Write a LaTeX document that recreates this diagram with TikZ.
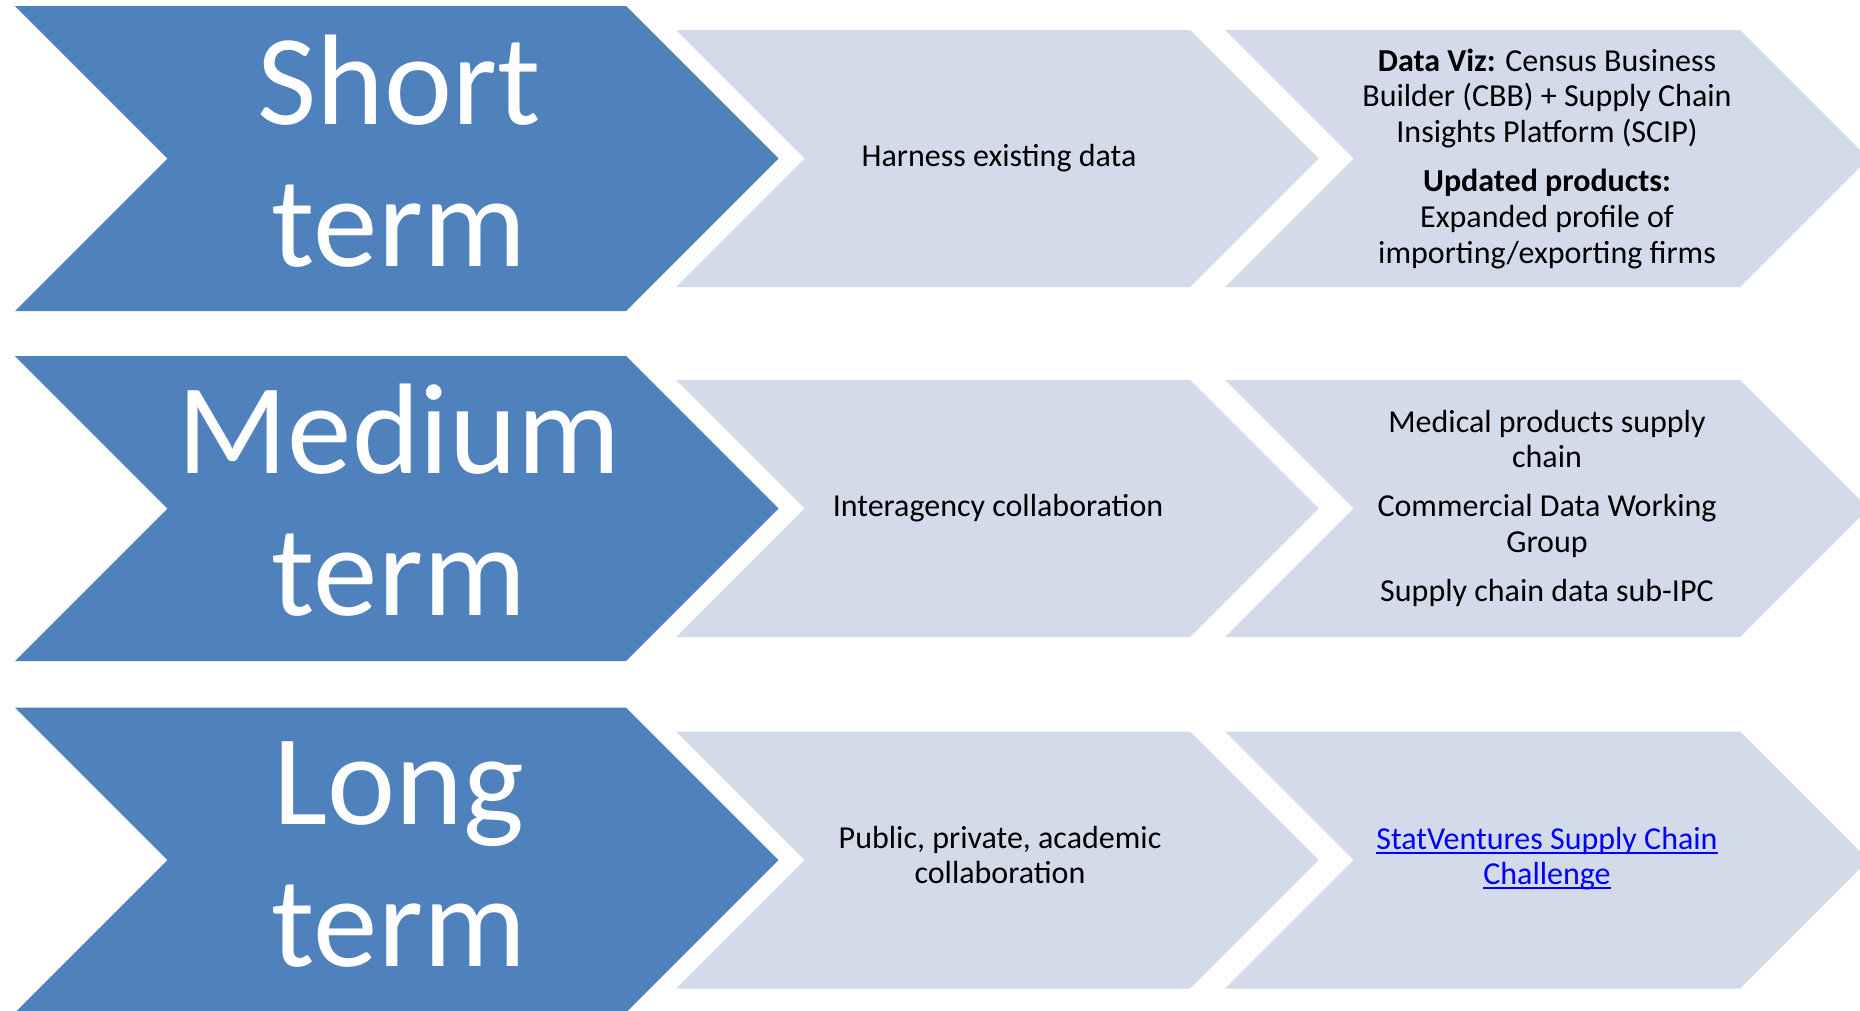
\documentclass[tikz,border=0pt]{standalone}
\usepackage{fontspec}
\setmainfont{Carlito}
\definecolor{chevblue}{HTML}{4F81BD}
\definecolor{chevgray}{HTML}{D3DBEA}
\definecolor{linkblue}{HTML}{0000FF}
% #1 style, #2 left x, #3 top-right x, #4 centre y, #5 half height
\newcommand\mychev[5]{\fill[#1] (#2,#4-#5) -- (#3,#4-#5) -- (#3+#5,#4) -- (#3,#4+#5) -- (#2,#4+#5) -- (#2+#5,#4) -- cycle;}
\newcommand\myul[1]{\leavevmode\setbox0\hbox{#1}\rlap{\rule[-4.5pt]{\wd0}{2pt}}\box0}
\tikzset{
  bluechev/.style={fill=chevblue},
  graychev/.style={fill=chevgray},
  bigtext/.style={anchor=base, inner sep=0pt, outer sep=0pt, text=white, font=\fontsize{129}{142}\selectfont},
  smalltext/.style={anchor=base, inner sep=0pt, outer sep=0pt, text=black, font=\fontsize{32}{35.8}\selectfont},
}
\begin{document}
\begin{tikzpicture}[x=1pt,y=-1pt]
\useasboundingbox (0,0) rectangle (1860,1010);
\clip (0,0) rectangle (1860,1010);
\fill[white] (0,0) rectangle (1860,1010);
% row 1
\mychev{bluechev}{15}{626}{158.5}{152.5}
\mychev{graychev}{676}{1190}{158.5}{128.5}
\mychev{graychev}{1225}{1740}{158.5}{128.5}
% row 2
\mychev{bluechev}{15}{626}{508.5}{152.5}
\mychev{graychev}{676}{1190}{508.5}{128.5}
\mychev{graychev}{1225}{1740}{508.5}{128.5}
% row 3
\mychev{bluechev}{15}{626}{860}{152.5}
\mychev{graychev}{676}{1190}{860}{128.5}
\mychev{graychev}{1225}{1740}{860}{128.5}
% big labels
\node[bigtext] (short) at (399,124) {\begin{tabular}[t]{@{}c@{}}Short\\term\end{tabular}};
\node[bigtext] (medium) at (399,473) {\begin{tabular}[t]{@{}c@{}}Medium\\term\end{tabular}};
\node[bigtext] (long) at (399,824) {\begin{tabular}[t]{@{}c@{}}Long\\term\end{tabular}};
% middle column
\node[smalltext] (harness) at (999,166) {\begin{tabular}[t]{@{}c@{}}Harness existing data\end{tabular}};
\node[smalltext] (inter) at (998,516) {\begin{tabular}[t]{@{}c@{}}Interagency collaboration\end{tabular}};
\node[smalltext] (public) at (1000,848) {\begin{tabular}[t]{@{}c@{}}Public, private, academic\\collaboration\end{tabular}};
% right column
\node[smalltext] (dataviz) at (1547,71) {\begin{tabular}[t]{@{}c@{}}\textbf{Data Viz:} Census Business\\Builder (CBB) + Supply Chain\\Insights Platform (SCIP)\\[13pt]\textbf{Updated products:}\\Expanded profile of\\importing/exporting firms\end{tabular}};
\node[smalltext] (medical) at (1547,432) {\begin{tabular}[t]{@{}c@{}}Medical products supply\\chain\\[13pt]Commercial Data Working\\Group\\[13pt]Supply chain data sub-IPC\end{tabular}};
\node[smalltext, text=linkblue] (statv) at (1547,849) {\begin{tabular}[t]{@{}c@{}}\myul{StatVentures Supply Chain}\\\myul{Challenge}\end{tabular}};
\end{tikzpicture}
\end{document}
